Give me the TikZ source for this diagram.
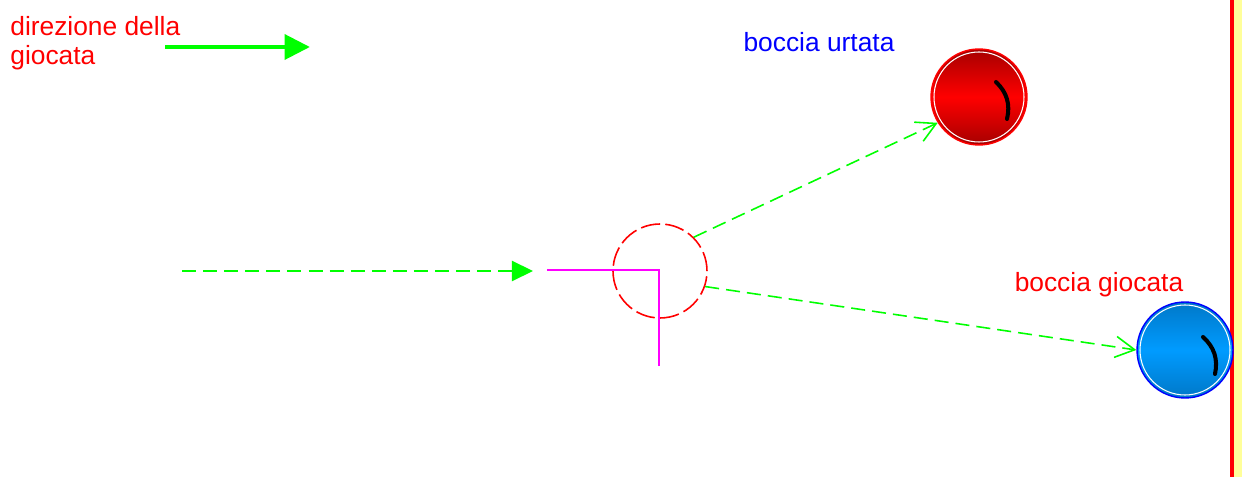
\documentclass[tikz,border=0pt]{standalone}
\usepackage{fontspec}
\setmainfont{Liberation Sans}
\usetikzlibrary{arrows.meta,positioning,calc}

\definecolor{fucsia}{RGB}{255,0,255}
\definecolor{sabbia}{RGB}{255,255,153}
\definecolor{azzurro}{RGB}{0,155,255}
\definecolor{azzurroscuro}{RGB}{0,120,200}

\begin{document}
\begin{tikzpicture}[
  x=0.02cm, y=0.02cm,
  lbl/.style={font=\fontsize{15}{16.5}\selectfont, inner sep=0pt, align=left},
  ball/.style={circle, inner sep=0pt, minimum size=1.92cm, line width=0.8pt},
  trail/.style={draw=green, line width=0.9pt, dash pattern=on 8pt off 4pt},
  barb/.style={-{Straight Barb[length=11pt, width=12pt, line width=0.9pt]}},
  spin/.style={line width=2.3pt, line cap=round},
]
\useasboundingbox (0,0) rectangle (1242,477);
% sponda
\fill[sabbia] (1233,0) rectangle (1242,477);
\draw[red, line width=2pt] (1232,0) -- (1232,477);

% legenda
\node[lbl, text=red, anchor=north west] (dir) at (10,461) {direzione della\\giocata};
\coordinate (dirA) at (165,430);
\coordinate (dirB) at (310,430);
\draw[green, line width=2.8pt, -{Triangle[length=14.5pt, width=14pt]}] (dirA) -- (dirB);

% bocce
\node[ball, draw=red, top color=red!65!black, bottom color=red!65!black, middle color=red] (urt) at (979,380) {};
\node[ball, draw=blue, top color=azzurroscuro, bottom color=azzurroscuro, middle color=azzurro] (gio) at (1185,127) {};
\draw[white, line width=0.6pt] (urt.center) circle[radius=45];
\draw[white, line width=0.6pt] (gio.center) circle[radius=45];
\draw[spin] ($(urt.center)+(17,15)$) to[bend left=30] ($(urt.center)+(28,-22)$);
\draw[spin] ($(gio.center)+(18,13)$) to[bend left=30] ($(gio.center)+(30,-24)$);
\node[lbl, text=blue, anchor=base] (lurt) at (819,425) {boccia urtata};
\node[lbl, text=red, anchor=base] (lgio) at (1099,185) {boccia giocata};

% punto d'impatto
\node[circle, draw=red, line width=0.9pt, dash pattern=on 11pt off 3pt, minimum size=1.88cm, inner sep=0pt] (hit) at (660,206) {};
\coordinate (m1) at (547,207);
\coordinate (m2) at (659,111);
\draw[fucsia, line width=1.1pt] (m1) -| (m2);

% traiettorie
\coordinate (start) at (182,206);
\coordinate (aim) at (533,206);
\draw[trail, -{Triangle[length=12pt, width=11.5pt]}] (start) -- (aim);
\draw[trail, barb] (hit.45) -- (urt.212);
\draw[trail, barb] (hit.-19) -- (gio.west);
\end{tikzpicture}
\end{document}
